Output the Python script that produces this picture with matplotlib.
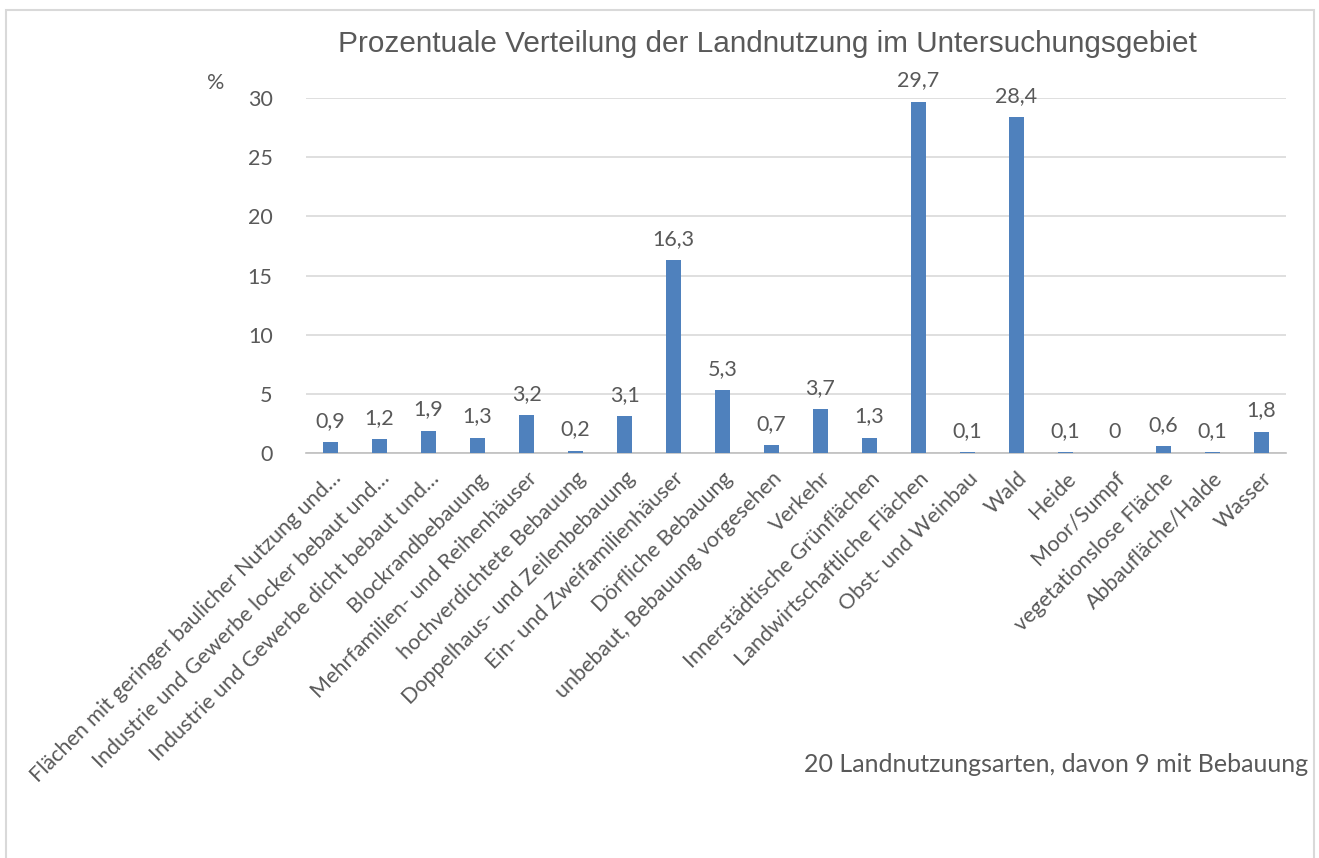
import matplotlib
matplotlib.use("Agg")
import matplotlib.pyplot as plt
from matplotlib.patches import Rectangle
import numpy as np

categories = [
    "Flächen mit geringer baulicher Nutzung und…",
    "Industrie und Gewerbe locker bebaut und…",
    "Industrie und Gewerbe dicht bebaut und…",
    "Blockrandbebauung",
    "Mehrfamilien- und Reihenhäuser",
    "hochverdichtete Bebauung",
    "Doppelhaus- und Zeilenbebauung",
    "Ein- und Zweifamilienhäuser",
    "Dörfliche Bebauung",
    "unbebaut, Bebauung vorgesehen",
    "Verkehr",
    "Innerstädtische Grünflächen",
    "Landwirtschaftliche Flächen",
    "Obst- und Weinbau",
    "Wald",
    "Heide",
    "Moor/Sumpf",
    "vegetationslose Fläche",
    "Abbaufläche/Halde",
    "Wasser",
]
values = [0.9, 1.2, 1.9, 1.3, 3.2, 0.2, 3.1, 16.3, 5.3, 0.7,
          3.7, 1.3, 29.7, 0.1, 28.4, 0.1, 0.0, 0.6, 0.1, 1.8]
yticks = [0, 5, 10, 15, 20, 25, 30]

TXT = "#595959"
BAR = "#4F81BD"
FS = 15.5
plt.rcParams['font.family'] = ['Lato', 'DejaVu Sans']

fig = plt.figure(figsize=(13.19, 8.58), dpi=100)
# outer chart frame (Excel style)
fig.patches.append(Rectangle((6 / 1319, -0.01), (1314 - 6) / 1319, 1 - 10 / 858 + 0.01,
                             transform=fig.transFigure, fill=False,
                             edgecolor="#d9d9d9", linewidth=1.5))

ax = fig.add_axes([306 / 1319, 1 - 453 / 858, 980 / 1319, 355 / 858])
x = np.arange(len(categories))
bars = ax.bar(x, values, width=0.31, color=BAR, zorder=3)

for xi, v in zip(x, values):
    lab = ("%g" % v).replace(".", ",")
    ax.annotate(lab, (xi, v), xytext=(0, 8), textcoords="offset points",
                ha="center", va="bottom", fontsize=FS, color=TXT)

ax.set_xlim(-0.5, len(categories) - 0.5)
ax.set_ylim(0, 30)
ax.set_yticks(yticks)
ax.set_yticklabels([str(t) for t in yticks], fontsize=FS, color=TXT)
ax.yaxis.grid(True, color="#d9d9d9", linewidth=1.2, zorder=0)
ax.tick_params(axis="y", length=0, pad=24)
ax.tick_params(axis="x", length=0, pad=11)
ax.set_xticks(x)
ax.set_xticklabels(categories, rotation=45, ha="right", rotation_mode="anchor",
                   fontsize=FS, color=TXT)
for s in ["top", "right", "left"]:
    ax.spines[s].set_visible(False)
ax.spines["bottom"].set_color("#bfbfbf")
ax.spines["bottom"].set_linewidth(1.2)

fig.text(767 / 1319, 1 - 44 / 858, "Prozentuale Verteilung der Landnutzung im Untersuchungsgebiet",
         ha="center", va="center", fontsize=21.4, color=TXT, family=["Liberation Sans", "DejaVu Sans"])
fig.text(216 / 1319, 1 - 83 / 858, "%", ha="center", va="center", fontsize=FS, color=TXT)
fig.text(1308 / 1319, 1 - 764 / 858, "20 Landnutzungsarten, davon 9 mit Bebauung",
         ha="right", va="center", fontsize=18, color=TXT)

fig.savefig("out.png", dpi=100)
